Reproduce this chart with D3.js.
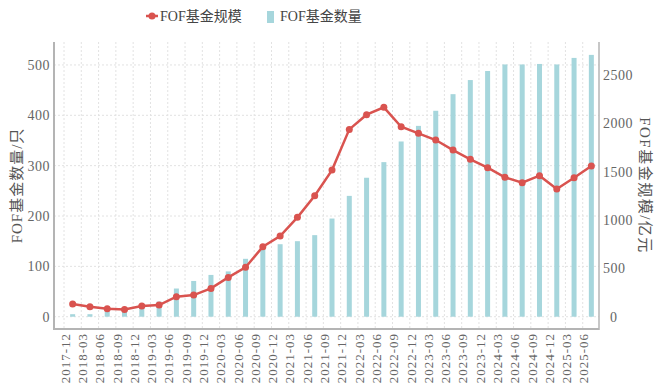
<!DOCTYPE html>
<meta charset="utf-8">
<script src="https://d3js.org/d3.v7.min.js"></script>
<style>
  body { margin: 0; background: #fff; }
  text { font-family: "Liberation Serif", "Noto Sans CJK SC", serif; }
</style>
<div id="chart"></div>
<script>
  // quarters on the x axis
  const quarters = ["2017-12","2018-03","2018-06","2018-09","2018-12","2019-03","2019-06","2019-09",
    "2019-12","2020-03","2020-06","2020-09","2020-12","2021-03","2021-06","2021-09","2021-12",
    "2022-03","2022-06","2022-09","2022-12","2023-03","2023-06","2023-09","2023-12","2024-03",
    "2024-06","2024-09","2024-12","2025-03","2025-06"];
  // FOF fund count (left axis, bars)
  const fundCount = [5,5,10,13,18,30,56,71,83,90,115,135,144,150,162,195,240,276,307,348,379,409,442,470,488,501,501,502,501,514,520];
  // FOF fund size, 100m yuan (right axis, line)
  const fundSize = [131,103,83,76,110,121,207,224,293,407,511,724,835,1028,1252,1517,1938,2090,2166,1965,1897,1828,1724,1628,1542,1442,1386,1459,1321,1438,1559];
  const leftTicks = [0,100,200,300,400,500];
  const rightTicks = [0,500,1000,1500,2000,2500];

  const W = 654, H = 390;
  const plot = {left: 54, right: 599, top: 42, bottom: 329};
  const barColor = "#a6d6dc", lineColor = "#d9534f";

  const svg = d3.select("#chart").append("svg")
    .attr("width", W).attr("height", H);

  const x = d3.scaleBand().domain(quarters).range([64, 600]);
  const yL = d3.scaleLinear().domain([-24.4, 545.6]).range([plot.bottom, plot.top]);
  const yR = d3.scaleLinear().domain([-127, 2842]).range([plot.bottom, plot.top]);

  // grid
  const grid = svg.append("g").attr("stroke", "#e2e2e2").attr("stroke-dasharray", "2,2").attr("stroke-width", 1);
  grid.selectAll("line.h").data(leftTicks).join("line")
    .attr("x1", plot.left).attr("x2", plot.right)
    .attr("y1", d => yL(d)).attr("y2", d => yL(d));
  grid.selectAll("line.v").data(quarters).join("line")
    .attr("x1", d => x(d)).attr("x2", d => x(d))
    .attr("y1", plot.top).attr("y2", plot.bottom);

  // bars
  svg.append("g").selectAll("rect").data(quarters).join("rect")
    .attr("x", (d, i) => x(d) + x.bandwidth() / 2 - 2.5)
    .attr("width", 5)
    .attr("y", (d, i) => yL(fundCount[i]))
    .attr("height", (d, i) => yL(0) - yL(fundCount[i]))
    .attr("fill", barColor);

  // line + dots
  const line = d3.line()
    .x((d, i) => x(quarters[i]) + x.bandwidth() / 2)
    .y(d => yR(d));
  svg.append("path").datum(fundSize)
    .attr("d", line).attr("fill", "none")
    .attr("stroke", lineColor).attr("stroke-width", 2.5);
  svg.append("g").selectAll("circle").data(fundSize).join("circle")
    .attr("cx", (d, i) => x(quarters[i]) + x.bandwidth() / 2)
    .attr("cy", d => yR(d))
    .attr("r", 3.5).attr("fill", lineColor);

  // axis lines
  const axisCol = "#b4b4b4";
  svg.append("line").attr("x1", plot.left).attr("x2", plot.left)
    .attr("y1", plot.top).attr("y2", plot.bottom + 1)
    .attr("stroke", axisCol).attr("stroke-width", 2);
  svg.append("line").attr("x1", plot.left).attr("x2", plot.right)
    .attr("y1", plot.bottom).attr("y2", plot.bottom)
    .attr("stroke", axisCol).attr("stroke-width", 2);
  svg.append("line").attr("x1", plot.right).attr("x2", plot.right)
    .attr("y1", plot.top).attr("y2", plot.bottom + 1)
    .attr("stroke", axisCol).attr("stroke-width", 1.5);

  // tick labels
  svg.append("g").selectAll("text").data(leftTicks).join("text")
    .attr("x", 50).attr("y", d => yL(d)).attr("dy", "0.35em")
    .attr("text-anchor", "end").attr("font-size", 14)
    .attr("letter-spacing", 0.5).attr("fill", "#666")
    .text(d => d);
  svg.append("g").selectAll("text").data(rightTicks).join("text")
    .attr("x", d => d === 0 ? 610 : 603).attr("y", d => yR(d)).attr("dy", "0.35em")
    .attr("font-size", 14)
    .attr("letter-spacing", 0.5).attr("fill", "#666")
    .text(d => d);
  svg.append("g").selectAll("text").data(quarters).join("text")
    .attr("transform", d => `translate(${x(d) + x.bandwidth() / 2 - 7.5},333) rotate(-90)`)
    .attr("dy", "0.35em").attr("text-anchor", "end")
    .attr("font-size", 13).attr("letter-spacing", 1).attr("fill", "#666")
    .text(d => d);

  // axis titles
  svg.append("text")
    .attr("transform", `translate(17,${(plot.top + plot.bottom) / 2}) rotate(-90)`)
    .attr("dy", "0.35em").attr("text-anchor", "middle")
    .attr("font-size", 15).attr("letter-spacing", 1).attr("fill", "#555")
    .text("FOF基金数量/只");
  svg.append("text")
    .attr("transform", `translate(645,${(plot.top + plot.bottom) / 2}) rotate(90)`)
    .attr("dy", "0.35em").attr("text-anchor", "middle")
    .attr("font-size", 15).attr("letter-spacing", 1.5).attr("fill", "#555")
    .text("FOF基金规模/亿元");

  // legend
  const lg = svg.append("g");
  lg.append("line").attr("x1", 146).attr("x2", 158).attr("y1", 16).attr("y2", 16)
    .attr("stroke", lineColor).attr("stroke-width", 2.5);
  lg.append("circle").attr("cx", 152).attr("cy", 16).attr("r", 3.5).attr("fill", lineColor);
  lg.append("text").attr("x", 160).attr("y", 16).attr("dy", "0.35em")
    .attr("font-size", 14).attr("fill", "#444").text("FOF基金规模");
  lg.append("rect").attr("x", 267).attr("y", 11).attr("width", 7).attr("height", 12)
    .attr("fill", barColor);
  lg.append("text").attr("x", 280).attr("y", 16).attr("dy", "0.35em")
    .attr("font-size", 14).attr("fill", "#444").text("FOF基金数量");
</script>
